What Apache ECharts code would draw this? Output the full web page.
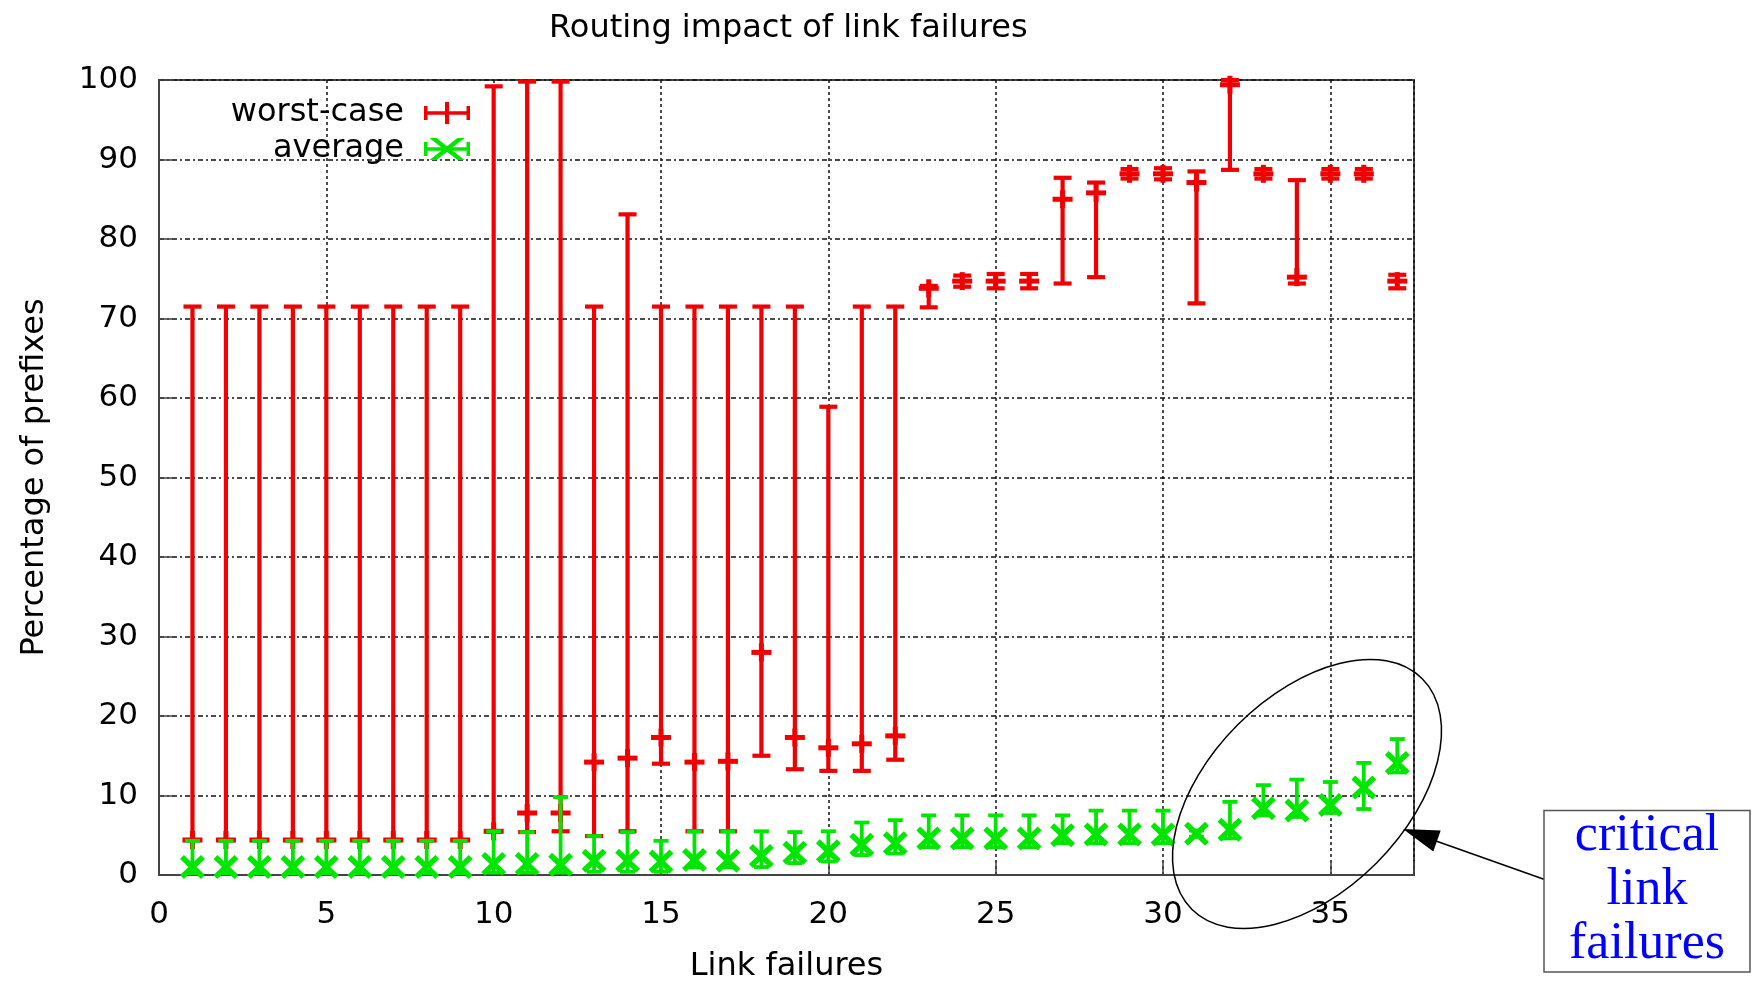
<!DOCTYPE html>
<html><head><meta charset="utf-8">
<script src="https://cdn.jsdelivr.net/npm/echarts@6/dist/echarts.min.js"></script>
<style>html,body{margin:0;padding:0;background:#fff}#c{width:1752px;height:982px}</style>
</head><body><div id="c"></div>
<script>
// ---- data ----
const linkFailures = [1,2,3,4,5,6,7,8,9,10,11,12,13,14,15,16,17,18,19,20,21,22,23,24,25,26,27,28,29,30,31,32,33,34,35,36,37];
const worstValue = [4.4,4.4,4.4,4.4,4.4,4.4,4.4,4.4,4.4,5.5,7.8,7.8,14.2,14.7,17.3,14.2,14.3,28.0,17.3,16.0,16.5,17.5,73.8,74.7,74.7,74.7,85.0,85.8,88.2,88.2,87.1,99.4,88.2,75.2,88.2,88.2,74.7];
const worstLow   = [4.4,4.4,4.4,4.4,4.4,4.4,4.4,4.4,4.4,5.5,5.4,5.5,4.9,5.5,14.0,5.5,5.5,15.0,13.3,13.1,13.1,14.5,71.4,74.0,73.8,73.8,74.4,75.2,87.6,87.5,71.9,88.7,87.6,74.4,87.6,87.6,73.8];
const worstHigh  = [71.5,71.5,71.5,71.5,71.5,71.5,71.5,71.5,71.5,99.2,99.8,99.8,71.5,83.1,71.5,71.5,71.5,71.5,71.5,58.9,71.5,71.5,74.1,75.4,75.6,75.6,87.7,87.1,88.8,88.9,88.5,100,88.8,87.4,88.8,88.8,75.5];
const avgValue = [1.0,1.0,1.0,1.0,1.0,1.0,1.0,1.0,1.0,1.4,1.4,1.3,1.8,1.8,1.7,1.9,1.8,2.4,2.8,3.0,3.8,4.0,4.6,4.6,4.6,4.6,5.0,5.1,5.1,5.1,5.2,5.7,8.4,8.1,8.8,11.0,14.1];
const avgLow   = [0.2,0.2,0.2,0.2,0.2,0.2,0.2,0.2,0.2,0.3,0.3,0.3,0.4,0.4,0.4,0.95,0.95,1.0,1.5,1.7,2.5,2.7,3.5,3.5,3.5,3.5,4.0,4.0,4.0,4.0,4.8,4.6,7.5,7.3,7.8,8.3,12.9];
const avgHigh  = [4.3,4.3,4.3,4.3,4.3,4.3,4.3,4.3,4.3,5.5,5.4,9.8,4.9,5.4,4.3,5.5,5.5,5.5,5.4,5.5,6.6,6.9,7.5,7.5,7.5,7.5,7.5,8.1,8.1,8.1,5.6,9.2,11.3,12.0,11.7,14.1,17.1];
const xTickLabels = [0,5,10,15,20,25,30,35];
const yTickLabels = [0,10,20,30,40,50,60,70,80,90,100];

const RED = '#f00000', GREEN = '#00e600';
const FONT = 'DejaVu Sans';

function errorBarRenderer(kind) {
  return function (params, api) {
    const x = api.value(0), y = api.value(1), lo = api.value(2), hi = api.value(3);
    const pH = api.coord([x, hi]), pL = api.coord([x, lo]), p = api.coord([x, y]);
    const color = kind === 'worst' ? RED : GREEN;
    const lw = kind === 'worst' ? 4.2 : 3.8;
    const cap = kind === 'worst' ? 9 : 7.5;
    const st = { stroke: color, lineWidth: lw };
    const ch = [
      { type: 'line', shape: { x1: pH[0], y1: pH[1], x2: pL[0], y2: pL[1] }, style: st },
      { type: 'line', shape: { x1: pH[0] - cap, y1: pH[1], x2: pH[0] + cap, y2: pH[1] }, style: st },
      { type: 'line', shape: { x1: pL[0] - cap, y1: pL[1], x2: pL[0] + cap, y2: pL[1] }, style: st }
    ];
    if (kind === 'worst') {
      const s = { stroke: color, lineWidth: 5 };
      ch.push({ type: 'line', shape: { x1: p[0] - 10, y1: p[1], x2: p[0] + 10, y2: p[1] }, style: s });
      ch.push({ type: 'line', shape: { x1: p[0], y1: p[1] - 9, x2: p[0], y2: p[1] + 9 }, style: s });
    } else {
      const s = { stroke: color, lineWidth: 5.5 };
      ch.push({ type: 'line', shape: { x1: p[0] - 10.5, y1: p[1] - 10, x2: p[0] + 10.5, y2: p[1] + 10 }, style: s });
      ch.push({ type: 'line', shape: { x1: p[0] - 10.5, y1: p[1] + 10, x2: p[0] + 10.5, y2: p[1] - 10 }, style: s });
    }
    return { type: 'group', children: ch };
  };
}

const worstData = linkFailures.map((x, i) => [x, worstValue[i], worstLow[i], worstHigh[i]]);
const avgData = linkFailures.map((x, i) => [x, avgValue[i], avgLow[i], avgHigh[i]]);

const redIcon = 'path://M0 9.25L46 9.25L46 12.75L0 12.75Z M0 4L3.5 4L3.5 18L0 18Z M42.5 4L46 4L46 18L42.5 18Z M21 0L25 0L25 22L21 22Z';
const greenIcon = 'path://M0 9.25L46 9.25L46 12.75L0 12.75Z M0 4L3.5 4L3.5 18L0 18Z M42.5 4L46 4L46 18L42.5 18Z M5.5 0L12.5 0L40.5 22L33.5 22Z M33.5 0L40.5 0L12.5 22L5.5 22Z';

const gridDash = { color: '#111', width: 1.5, type: [5, 3, 2, 3] };

const chart = echarts.init(document.getElementById('c'), null, { renderer: 'canvas' });
chart.setOption({
  backgroundColor: '#fff',
  animation: false,
  title: {
    text: 'Routing impact of link failures',
    left: 544, top: 8,
    textStyle: { fontFamily: FONT, fontSize: 32, fontWeight: 'normal', color: '#000' }
  },
  legend: {
    orient: 'vertical', align: 'right', right: 1282, top: 97, padding: 0, itemGap: 4,
    itemWidth: 46, itemHeight: 22, selectedMode: false,
    textStyle: { fontFamily: FONT, fontSize: 32, color: '#000', padding: [0, 15, 0, 0] },
    data: [{ name: 'worst-case', icon: redIcon }, { name: 'average', icon: greenIcon }]
  },
  grid: { left: 159, right: 338, top: 80, bottom: 107, show: true, borderColor: '#444', borderWidth: 2,
    containLabel: false, outerBoundsMode: 'none' },
  xAxis: {
    type: 'value', min: 0, max: 37.5, interval: 5,
    name: 'Link failures', nameLocation: 'middle', nameGap: 76,
    nameTextStyle: { fontFamily: FONT, fontSize: 32, color: '#000' },
    axisLine: { show: true, lineStyle: { color: '#444', width: 2 } },
    axisTick: { show: true, inside: true, length: 14, lineStyle: { color: '#444', width: 1.5 } },
    axisLabel: { fontFamily: FONT, fontSize: 31, color: '#000', margin: 24,
      formatter: v => (xTickLabels.indexOf(v) >= 0 ? String(v) : '') },
    splitLine: { show: true, lineStyle: { color: '#111', width: 1.5, type: [3, 3] } }
  },
  yAxis: {
    type: 'value', min: 0, max: 100, interval: 10,
    name: 'Percentage of prefixes', nameLocation: 'middle', nameGap: 108,
    nameTextStyle: { fontFamily: FONT, fontSize: 32, color: '#000' },
    axisLine: { show: true, lineStyle: { color: '#444', width: 2 } },
    axisTick: { show: true, inside: true, length: 16, lineStyle: { color: '#444', width: 1.5 } },
    axisLabel: { fontFamily: FONT, fontSize: 31, color: '#000', margin: 21,
      formatter: v => (yTickLabels.indexOf(v) >= 0 ? String(v) : '') },
    splitLine: { show: true, lineStyle: gridDash }
  },
  series: [
    { name: 'worst-case', type: 'custom', renderItem: errorBarRenderer('worst'),
      itemStyle: { color: RED }, encode: { x: 0, y: [1, 2, 3] }, data: worstData, clip: false, z: 3 },
    { name: 'average', type: 'custom', renderItem: errorBarRenderer('avg'),
      itemStyle: { color: GREEN }, encode: { x: 0, y: [1, 2, 3] }, data: avgData, clip: false, z: 4 }
  ],
  graphic: [
    { type: 'ellipse', x: 1307, y: 794, rotation: Math.PI / 4,
      shape: { cx: 0, cy: 0, rx: 163, ry: 98 },
      style: { fill: 'none', stroke: '#000', lineWidth: 1.5 }, z: 10 },
    { type: 'line', shape: { x1: 1436, y1: 841, x2: 1546, y2: 880 },
      style: { stroke: '#000', lineWidth: 1.5 }, z: 10 },
    { type: 'polygon', shape: { points: [[1403, 829], [1433.3, 851.4], [1440.7, 830.6]] },
      style: { fill: '#000' }, z: 10 },
    { type: 'rect', shape: { x: 1544, y: 810.5, width: 206, height: 161.5 },
      style: { fill: '#fff', stroke: '#555', lineWidth: 1.5 }, z: 10 },
    { type: 'text', x: 1647, y: 890,
      style: { text: 'critical\nlink\nfailures', fill: '#0000ff', font: '52px "Liberation Serif"',
        align: 'center', verticalAlign: 'middle', lineHeight: 54 }, z: 11 }
  ]
});
</script>
</body></html>
